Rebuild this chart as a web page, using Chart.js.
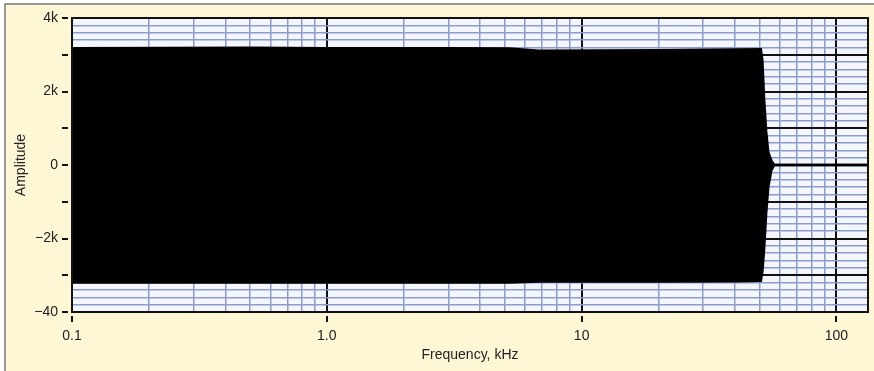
<!DOCTYPE html>
<html>
<head>
<meta charset="utf-8">
<script src="https://cdn.jsdelivr.net/npm/chart.js@4.4.1/dist/chart.umd.min.js"></script>
<style>
  html, body { margin: 0; padding: 0; background: #fff; }
  canvas { display: block; }
</style>
</head>
<body>
<canvas id="chart" width="874" height="371"></canvas>
<script>
// envelope of the signal (kHz / amplitude)
const freqKHz = [0.1, 0.5, 1, 3, 5.2, 6.8, 20, 40, 50.5, 51.2, 52, 53, 54, 55.5, 57, 60, 133]
const upperAmp = [3180, 3190, 3180, 3180, 3170, 3110, 3120, 3140, 3150, 2850, 1800, 900, 350, 120, 0, 0, 0]
const lowerAmp = [-3200, -3200, -3200, -3200, -3200, -3170, -3170, -3160, -3150, -2900, -2300, -1300, -600, -150, 0, 0, 0]

// axis labels
const xLabelValues = [0.1, 1, 10, 100]
const xLabelText = ['0.1', '1.0', '10', '100']
const yLabelValues = [4000, 2000, 0, -2000, -4000]
const yLabelText = ['4k', '2k', '0', '\u22122k', '\u221240']

const cream = '#fdf7d6'
const blue = '#8c9bcb'
const black = '#111'
const fontFamily = '"Liberation Sans", Arial, Helvetica, sans-serif'

// grid positions: 1..9 per decade on x, every 200 on y
let xGrid = []
for (let d of [0.1, 1, 10, 100])
    for (let m = 1; m <= 9; m++)
        if (d * m <= 133) xGrid.push(d * m)
let yGrid = []
for (let v = -4000; v <= 4000; v += 200) yGrid.push(v)

function near(a, b) { return Math.abs(a - b) < 1e-6 * Math.max(1, Math.abs(b)) }
function isXMajor(v) { return xLabelValues.some(t => near(v, t)) }
function isYMajor(v) { return Math.abs(v % 1000) < 1e-6 }

const frame = {
    id: 'frame',
    beforeDraw(chart) {
        const ctx = chart.ctx
        const a = chart.chartArea
        ctx.save()
        ctx.fillStyle = '#fff'
        ctx.fillRect(0, 0, chart.width, chart.height)
        ctx.fillStyle = cream
        ctx.fillRect(5, 4, chart.width - 5, chart.height - 4)
        ctx.strokeStyle = '#777'
        ctx.lineWidth = 1.5
        ctx.beginPath()
        ctx.moveTo(5, chart.height)
        ctx.lineTo(5, 4)
        ctx.lineTo(chart.width, 4)
        ctx.stroke()
        ctx.fillStyle = '#f4f6fd'
        ctx.fillRect(a.left, a.top, a.right - a.left, a.bottom - a.top)
        ctx.restore()
    },
    afterDatasetsDraw(chart) {
        const ctx = chart.ctx
        const a = chart.chartArea
        ctx.save()
        ctx.strokeStyle = black
        ctx.lineWidth = 2
        ctx.strokeRect(a.left, a.top, a.right - a.left, a.bottom - a.top)
        ctx.restore()
    }
}

new Chart(document.getElementById('chart'), {
    type: 'line',
    data: {
        datasets: [{
            data: freqKHz.map((f, i) => ({x: f, y: upperAmp[i]})),
            borderColor: '#000',
            borderWidth: 2.5,
            pointRadius: 0,
            fill: false
        }, {
            data: freqKHz.map((f, i) => ({x: f, y: lowerAmp[i]})),
            borderColor: '#000',
            borderWidth: 2.5,
            pointRadius: 0,
            fill: '-1',
            backgroundColor: '#000'
        }]
    },
    plugins: [frame],
    options: {
        responsive: false,
        animation: false,
        layout: { padding: { top: 18, right: 6, left: 0, bottom: 0 } },
        plugins: { legend: { display: false }, tooltip: { enabled: false } },
        scales: {
            x: {
                type: 'logarithmic',
                min: 0.1,
                max: 133,
                afterBuildTicks: s => { s.ticks = xGrid.map(v => ({value: v})) },
                afterFit: s => { s.height = 59 },
                border: { display: false },
                grid: {
                    color: c => isXMajor(c.tick.value) ? black : blue,
                    lineWidth: c => isXMajor(c.tick.value) ? 2 : 1.5,
                    tickColor: c => isXMajor(c.tick.value) ? black : 'transparent',
                    tickWidth: 2,
                    tickLength: 10,
                    tickBorderDash: [0, 4, 6, 20]
                },
                ticks: {
                    autoSkip: false,
                    maxRotation: 0,
                    padding: 6,
                    color: '#222',
                    font: { family: fontFamily, size: 14 },
                    callback: v => {
                        let i = xLabelValues.findIndex(t => near(v, t))
                        return i >= 0 ? xLabelText[i] : ''
                    }
                },
                title: {
                    display: true,
                    text: 'Frequency, kHz',
                    color: '#222',
                    font: { family: fontFamily, size: 14 },
                    padding: { top: 0, bottom: 7 }
                }
            },
            y: {
                min: -4000,
                max: 4000,
                afterBuildTicks: s => { s.ticks = yGrid.map(v => ({value: v})) },
                afterFit: s => { s.width = 72 },
                border: { display: false },
                grid: {
                    color: c => isYMajor(c.tick.value) ? black : blue,
                    lineWidth: c => isYMajor(c.tick.value) ? 2 : 1.5,
                    tickColor: c => isYMajor(c.tick.value) ? black : 'transparent',
                    tickWidth: 2,
                    tickLength: 10,
                    tickBorderDash: [6, 20]
                },
                ticks: {
                    autoSkip: false,
                    padding: 4,
                    color: '#222',
                    font: { family: fontFamily, size: 14 },
                    callback: v => {
                        let i = yLabelValues.findIndex(t => near(v, t))
                        return i >= 0 ? yLabelText[i] : ''
                    }
                },
                title: {
                    display: true,
                    text: 'Amplitude',
                    color: '#222',
                    font: { family: fontFamily, size: 14 },
                    padding: { top: 13, bottom: 0 }
                }
            }
        }
    }
});
</script>
</body>
</html>
